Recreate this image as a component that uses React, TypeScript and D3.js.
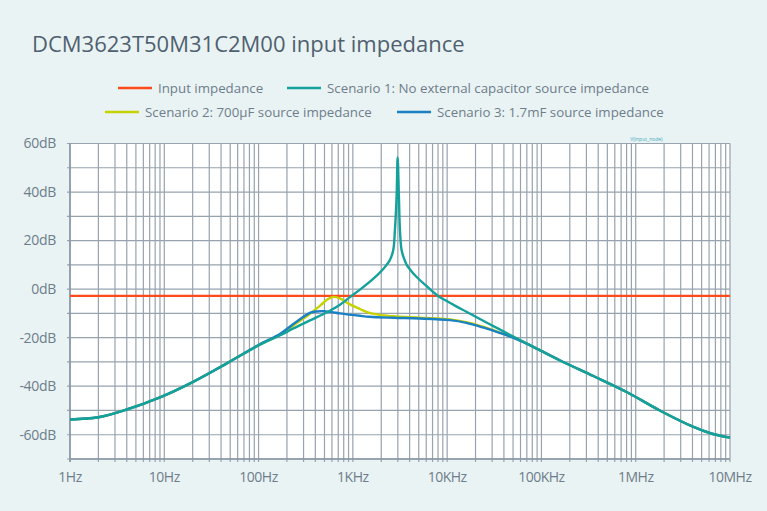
import React, { useEffect, useRef } from 'react';
import * as d3 from 'd3';

const TITLE = 'DCM3623T50M31C2M00 input impedance';

const xTickValues = [1, 10, 100, 1e3, 1e4, 1e5, 1e6, 1e7];
const xTickLabels = ['1Hz', '10Hz', '100Hz', '1KHz', '10KHz', '100KHz', '1MHz', '10MHz'];
const yTickValues = [60, 40, 20, 0, -20, -40, -60];

const inputFreq = [1, 1e7];
const inputDb = [-2.8, -2.8];

const scenario1Freq = [
  1, 2, 4, 9, 20, 46, 100, 170, 234, 351, 545, 730, 930, 1190, 1640, 2100, 2470, 2680,
  2790, 2910, 2985, 3080, 3160, 3290, 3500, 3720, 4200, 4750, 6070, 8000, 10000, 12500,
  16000, 36000, 82000, 158000, 355000, 800000, 1800000, 4100000, 6200000, 10000000,
];
const scenario1Db = [
  -53.7, -52.8, -49.6, -44.6, -38.3, -30.6, -23.2, -19.0, -16.2, -12.9, -9.3, -6.4, -3.3,
  -0.2, 4.2, 8.3, 12, 16, 24, 38, 54.3, 38, 24, 16, 12.5, 10, 7.3, 5.0, 1.2, -2.8, -5.0,
  -7.1, -9.3, -16.6, -23.8, -29.4, -35.8, -42.4, -50.0, -56.8, -59.4, -61.2,
];

const scenario2Freq = [
  1, 2, 4, 9, 20, 46, 100, 170, 234, 351, 447, 540, 620, 730, 900, 1190, 1500, 2000, 2700,
  5100, 10700, 16000, 24000, 36000, 50000, 82000, 158000, 355000, 800000, 1800000,
  4100000, 6200000, 10000000,
];
const scenario2Db = [
  -53.7, -52.8, -49.6, -44.6, -38.3, -30.6, -23.1, -18.8, -15.0, -10.2, -6.9, -4.2, -3.2,
  -3.8, -6.0, -8.2, -9.8, -10.7, -11.2, -11.8, -12.5, -13.6, -15.5, -17.9, -19.9, -23.8,
  -29.4, -35.8, -42.4, -50.0, -56.8, -59.4, -61.2,
];

const scenario3Freq = [
  1, 2, 4, 9, 20, 46, 100, 170, 234, 351, 415, 490, 600, 730, 1190, 1500, 2700, 5100,
  10700, 16000, 24000, 36000, 50000, 82000, 158000, 355000, 800000, 1800000, 4100000,
  6200000, 10000000,
];
const scenario3Db = [
  -53.7, -52.8, -49.6, -44.6, -38.3, -30.6, -23.0, -18.4, -14.4, -9.8, -9.2, -9.1, -9.5,
  -10.0, -11.0, -11.4, -11.8, -12.1, -12.8, -13.9, -15.8, -18.0, -20.0, -23.8, -29.4,
  -35.8, -42.4, -50.0, -56.8, -59.4, -61.2,
];

const series = [
  { label: 'Input impedance', color: '#ff4b1c', freq: inputFreq, db: inputDb },
  { label: 'Scenario 2: 700µF source impedance', color: '#c6d300', freq: scenario2Freq, db: scenario2Db },
  { label: 'Scenario 3: 1.7mF source impedance', color: '#1a80c4', freq: scenario3Freq, db: scenario3Db },
  { label: 'Scenario 1: No external capacitor source impedance', color: '#14a19b', freq: scenario1Freq, db: scenario1Db },
];

const FONT = '"Open Sans", "Noto Sans", sans-serif';
const TEXT_COLOR = '#6d7d8b';
const GRID_COLOR = '#97a3ae';

const App: React.FC = () => {
  const svgRef = useRef<SVGSVGElement>(null);
  const width = 767;
  const height = 511;

  useEffect(() => {
    document.body.style.margin = '0';
    if (!svgRef.current) return;

    const svg = d3.select(svgRef.current);
    svg.selectAll('*').remove();

    const margin = { top: 143.5, right: 37, bottom: 52, left: 70 };
    const innerWidth = width - margin.left - margin.right;
    const innerHeight = height - margin.top - margin.bottom;

    svg.append('rect').attr('width', width).attr('height', height).attr('fill', '#eaf3f3');

    // Title
    svg
      .append('text')
      .attr('x', 32)
      .attr('y', 52)
      .style('font-family', FONT)
      .style('font-size', '22px')
      .style('fill', '#4f6070')
      .text(TITLE);

    // Legend
    const legendItems = [
      { s: series[0], x: 118, y: 88 },
      { s: series[3], x: 287, y: 88 },
      { s: series[1], x: 105, y: 112 },
      { s: series[2], x: 397, y: 112 },
    ];
    legendItems.forEach(({ s, x, y }) => {
      svg
        .append('line')
        .attr('x1', x)
        .attr('x2', x + 34)
        .attr('y1', y)
        .attr('y2', y)
        .attr('stroke', s.color)
        .attr('stroke-width', 2.5);
      svg
        .append('text')
        .attr('x', x + 40)
        .attr('y', y)
        .attr('dy', '0.35em')
        .style('font-family', FONT)
        .style('font-size', '13.3px')
        .style('fill', TEXT_COLOR)
        .text(s.label);
    });

    const g = svg.append('g').attr('transform', `translate(${margin.left},${margin.top})`);

    const xScale = d3.scaleLog().domain([1, 1e7]).range([0, innerWidth]);
    const yScale = d3.scaleLinear().domain([-70, 60]).range([innerHeight, 0]);

    g.append('rect').attr('width', innerWidth).attr('height', innerHeight).attr('fill', '#ffffff');

    // Grid
    const xGrid: number[] = [];
    for (let k = 0; k < 7; k++) {
      for (let m = 1; m <= 9; m++) xGrid.push(m * Math.pow(10, k));
    }
    xGrid.push(1e7);
    const yGrid = d3.range(-70, 61, 10);

    g.selectAll('.vgrid')
      .data(xGrid)
      .enter()
      .append('line')
      .attr('x1', d => xScale(d))
      .attr('x2', d => xScale(d))
      .attr('y1', 0)
      .attr('y2', innerHeight + 3)
      .attr('stroke', GRID_COLOR)
      .attr('stroke-width', 1.2);

    g.selectAll('.hgrid')
      .data(yGrid)
      .enter()
      .append('line')
      .attr('x1', -3)
      .attr('x2', innerWidth)
      .attr('y1', d => yScale(d))
      .attr('y2', d => yScale(d))
      .attr('stroke', GRID_COLOR)
      .attr('stroke-width', 1.2);

    // Axis lines
    g.append('line')
      .attr('x1', 0)
      .attr('x2', 0)
      .attr('y1', 0)
      .attr('y2', innerHeight + 3)
      .attr('stroke', '#8796a3')
      .attr('stroke-width', 1.5);
    g.append('line')
      .attr('x1', 0)
      .attr('x2', innerWidth)
      .attr('y1', innerHeight)
      .attr('y2', innerHeight)
      .attr('stroke', '#8796a3')
      .attr('stroke-width', 1.5);

    // Tick labels
    g.selectAll('.xlabel')
      .data(xTickValues)
      .enter()
      .append('text')
      .attr('x', d => xScale(d))
      .attr('y', innerHeight + 18)
      .attr('dy', '0.35em')
      .attr('text-anchor', 'middle')
      .style('font-family', FONT)
      .style('font-size', '14px')
      .style('letter-spacing', '-0.5px')
      .style('fill', TEXT_COLOR)
      .text((d, i) => xTickLabels[i]);

    g.selectAll('.ylabel')
      .data(yTickValues)
      .enter()
      .append('text')
      .attr('x', -14)
      .attr('y', d => yScale(d))
      .attr('dy', '0.35em')
      .attr('text-anchor', 'end')
      .style('font-family', FONT)
      .style('font-size', '14px')
      .style('letter-spacing', '-0.3px')
      .style('fill', TEXT_COLOR)
      .text(d => `${d}dB`);

    // Small probe label
    g.append('text')
      .attr('x', xScale(1.3e6))
      .attr('y', -3)
      .attr('text-anchor', 'middle')
      .style('font-family', FONT)
      .style('font-size', '5px')
      .style('fill', '#3aa9c0')
      .text('V(input_node)');

    // Curves
    const line = d3
      .line<[number, number]>()
      .x(d => xScale(d[0]))
      .y(d => yScale(d[1]))
      .curve(d3.curveCatmullRom.alpha(0.5));

    series.forEach(s => {
      const pts = s.freq.map((f, i) => [f, s.db[i]] as [number, number]);
      g.append('path')
        .datum(pts)
        .attr('d', line)
        .attr('fill', 'none')
        .attr('stroke', s.color)
        .attr('stroke-width', 2.4)
        .attr('stroke-linejoin', 'round');
    });
  }, []);

  return <svg ref={svgRef} width={width} height={height} style={{ display: 'block' }} />;
};

export default App;
